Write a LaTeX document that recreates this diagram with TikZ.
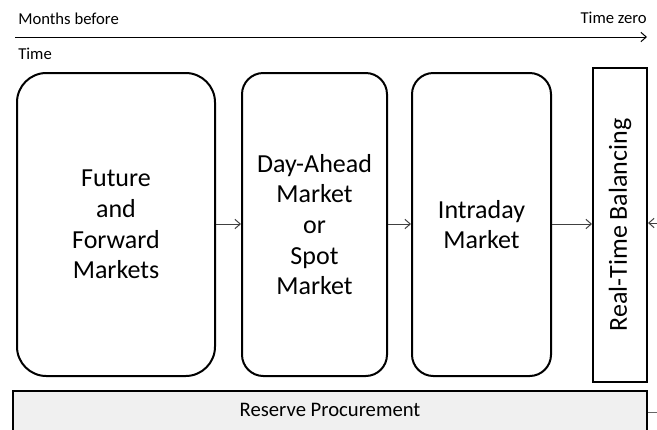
\documentclass[tikz,border=0pt]{standalone}
\usepackage{fontspec}
\setmainfont{Carlito}
\usetikzlibrary{arrows.meta}

\begin{document}
\begin{tikzpicture}[x=0.75pt, y=-0.75pt, >={Straight Barb[length=4pt,width=7pt]},
  market/.style={draw, line width=1.5pt, align=center, font=\fontsize{19.5}{23}\selectfont},
  label/.style={inner sep=0pt, font=\fontsize{12.5}{15}\selectfont},
  link/.style={->, draw=black!75, line width=0.75pt}]
  \useasboundingbox (0,0) rectangle (657,429);
  \clip (0,0) rectangle (657,429);

  % Time axis
  \node[label, anchor=west] (before) at (18,19) {Months before};
  \node[label, anchor=east] (zero) at (647,18) {Time zero};
  \node[label, anchor=west] (time) at (18,54) {Time};
  \coordinate (t0) at (15,37);
  \coordinate (t1) at (647,37);
  \draw[->, line width=0.75pt] (t0) -- (t1);

  % Nodes
  \node[market, rounded corners=22pt, minimum width=148.5pt, minimum height=227.25pt] (future) at (116,224.5) {Future\\and\\Forward\\Markets};
  \node[market, rounded corners=16pt, minimum width=108.75pt, minimum height=227.25pt] (dayahead) at (314.5,224.5) {Day-Ahead\\Market\\or\\Spot\\Market};
  \node[market, rounded corners=16pt, minimum width=104.25pt, minimum height=227.25pt] (intraday) at (481.5,224.5) {Intraday\\Market};
  \node[market, minimum width=40.5pt, minimum height=235.5pt] (realtime) at (620,225) {};
  \node[rotate=90, font=\fontsize{19.5}{23}\selectfont] (rtlabel) at (620,225) {Real-Time Balancing};
  \node[market, fill=black!6, minimum width=475.5pt, minimum height=31.5pt, font=\fontsize{15.5}{18}\selectfont] (reserve) at (330,412) {};
  \node[font=\fontsize{15.5}{18}\selectfont] (reslabel) at (330,410) {Reserve Procurement};
  \coordinate (rtin) at (657,223);
  \coordinate (resout) at (657,412);

  % Edges
  \draw[link] (future.east |- 0,224) -- (dayahead.west |- 0,224);
  \draw[link] (dayahead.east |- 0,224) -- (intraday.west |- 0,224);
  \draw[link] (intraday.east |- 0,224) -- (realtime.west |- 0,224);
  \draw[link] (rtin) -- (realtime.east |- rtin);
  \draw[draw=black!60, line width=0.75pt] (reserve.east |- resout) -- (resout);
\end{tikzpicture}
\end{document}
